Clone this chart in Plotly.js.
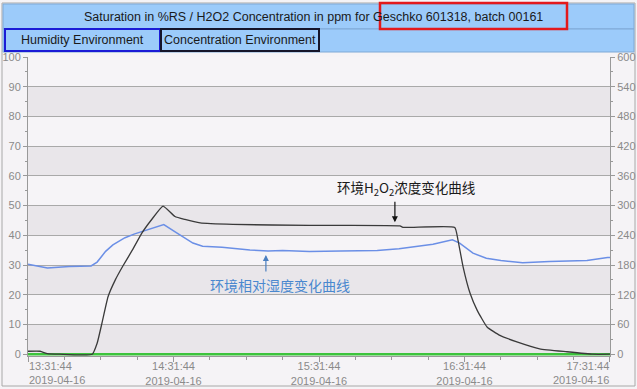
<!DOCTYPE html>
<html><head><meta charset="utf-8">
<script src="https://cdn.plot.ly/plotly-3.0.1.min.js"></script>
<style>html,body{margin:0;padding:0;background:#f5f3f6;}#chart{width:637px;height:389px;}</style>
</head><body><div id="chart"></div>
<script>
// ---- data ----
var day = '2019-04-16';
var humTimes = ['13:31:44','13:39:44','13:48:44','13:57:44','14:00:14','14:03:44','14:06:44','14:11:44','14:15:44','14:21:44','14:27:44','14:32:44','14:39:44','14:43:44','14:51:44','15:03:14','15:10:44','15:16:44','15:27:44','15:40:44','15:55:44','16:04:44','16:18:44','16:26:44','16:29:44','16:35:14','16:40:44','16:46:44','16:55:44','17:06:44','17:22:14','17:30:44','17:31:44'];
var humidity = [30.3,29.0,29.5,29.7,31.0,34.6,36.8,39.2,40.5,42.1,43.6,41.0,37.4,36.3,36.0,35.1,34.7,34.9,34.6,34.7,34.9,35.5,37.0,38.5,37.4,34.0,32.3,31.5,30.8,31.2,31.5,32.5,32.5];
var concTimes = ['13:31:44','13:36:44','13:39:44','13:44:44','13:58:14','14:00:14','14:02:14','14:04:44','14:07:44','14:10:44','14:14:44','14:18:44','14:22:44','14:27:26','14:32:20','14:36:26','14:42:44','14:56:14','15:27:44','16:05:08','16:06:20','16:27:44','16:29:02','16:31:08','16:34:02','16:36:56','16:41:02','16:46:20','16:53:20','17:02:44','17:14:02','17:24:44','17:31:44'];
var concentration = [6,6,1,0,0,22,63,116,150,177,210,245,272,299,278,272,265,262,260,259,256,256,231,177,123,89,55,38,25,11,5,0,0];
var zeroTimes = ['13:31:44','17:31:44'];
var zeroLine = [0,0];
var leftTicks = [0,10,20,30,40,50,60,70,80,90,100];
var rightTicks = [0,60,120,180,240,300,360,420,480,540,600];
var xTickTimes = ['13:31:44','14:31:44','15:31:44','16:31:44','17:31:44'];
var titleText = 'Saturation in %RS / H2O2 Concentration in ppm for Geschko 601318, batch 00161';
var tabLabels = ['Humidity Environment','Concentration Environment'];
var concLabel = '环境H<sub>2</sub>O<sub>2</sub>浓度变化曲线';
var humLabel = '环境相对湿度变化曲线';

function d(t){return day + ' ' + t;}
function tickLabel(t){return t + '<br>' + day;}
var last = xTickTimes.length - 1;
// edge labels are kept inside the frame (drawn as annotations), inner ones as axis labels
var xTickText = xTickTimes.map(function(t, i){return (i === 0 || i === last) ? '' : tickLabel(t);});

// ---- layout geometry helpers (pixel -> paper) ----
var L=28, R=610, T=57, B=356;
function px(x){return (x-L)/(R-L);}
function py(y){return (B-y)/(B-T);}

var font = 'Liberation Sans, Arial, sans-serif';
var traces = [
  {x: zeroTimes.map(d), y: zeroLine, mode:'lines', line:{color:'#3cc43c', width:2.5}, yaxis:'y', hoverinfo:'skip'},
  {x: humTimes.map(d), y: humidity, mode:'lines', line:{color:'#6b8fe6', width:1.5}, yaxis:'y'},
  {x: concTimes.map(d), y: concentration, mode:'lines', line:{color:'#3a3a3a', width:1.3, shape:'spline', smoothing:0.4}, yaxis:'y2'}
];

var bandShapes = [0,20,40,60,80].map(function(v){
  return {type:'rect', xref:'paper', yref:'y', x0:0, x1:1, y0:v, y1:v+10, fillcolor:'#e9e6ea', line:{width:0}, layer:'below'};
});

var headerShapes = [
  {type:'rect', xref:'paper', yref:'paper', x0:px(2), x1:px(635), y0:py(3), y1:py(386), line:{color:'#a8a8a8', width:1}, fillcolor:'rgba(0,0,0,0)', layer:'below'},
  {type:'rect', xref:'paper', yref:'paper', x0:px(3), x1:px(634), y0:py(4), y1:py(29), fillcolor:'#9ccbfa', line:{color:'#7fa9d6', width:1}},
  {type:'rect', xref:'paper', yref:'paper', x0:px(3), x1:px(634), y0:py(29), y1:py(52), fillcolor:'#9ccbfa', line:{color:'#7fa9d6', width:1}},
  {type:'rect', xref:'paper', yref:'paper', x0:px(5), x1:px(160), y0:py(29), y1:py(51), line:{color:'#1b1bd6', width:2}},
  {type:'rect', xref:'paper', yref:'paper', x0:px(161), x1:px(319), y0:py(29), y1:py(51), line:{color:'#15152a', width:2}},
  {type:'rect', xref:'paper', yref:'paper', x0:px(380), x1:px(567), y0:py(3), y1:py(29), line:{color:'#e3191c', width:2.5}}
];

var axisFont = {family:font, size:11, color:'#8a8a8a'};
var annotations = [
  {xref:'paper', yref:'paper', x:px(313), y:py(17), text:titleText, showarrow:false, font:{family:font, size:12.5, color:'#1a1a1a'}, xanchor:'center', yanchor:'middle'},
  {xref:'paper', yref:'paper', x:px(82), y:py(40), text:tabLabels[0], showarrow:false, font:{family:font, size:12.5, color:'#1a1a1a'}, xanchor:'center', yanchor:'middle'},
  {xref:'paper', yref:'paper', x:px(240), y:py(40), text:tabLabels[1], showarrow:false, font:{family:font, size:12.5, color:'#1a1a1a'}, xanchor:'center', yanchor:'middle'},
  {xref:'paper', yref:'paper', x:px(406), y:py(188), text:concLabel, showarrow:false, font:{family:'Noto Sans CJK SC', size:13.5, color:'#1a1a1a'}, xanchor:'center', yanchor:'middle'},
  {xref:'paper', yref:'paper', x:px(280), y:py(285), text:humLabel, showarrow:false, font:{family:'Noto Sans CJK SC', size:14, color:'#4a88cf'}, xanchor:'center', yanchor:'middle'},
  {x:d('16:03:02'), y:44.4, xref:'x', yref:'y', text:'', showarrow:true, ax:0, ay:-22, arrowhead:2, arrowsize:1, arrowwidth:1.2, arrowcolor:'#111'},
  {x:d('15:09:50'), y:33.4, xref:'x', yref:'y', text:'', showarrow:true, ax:0, ay:18, arrowhead:2, arrowsize:1, arrowwidth:1.2, arrowcolor:'#4a7fc0'},
  {x:d(xTickTimes[0]), xref:'x', yref:'paper', y:py(358), text:tickLabel(xTickTimes[0]), showarrow:false, xanchor:'left', yanchor:'top', align:'left', font:axisFont, xshift:-1},
  {x:d(xTickTimes[last]), xref:'x', yref:'paper', y:py(358), text:tickLabel(xTickTimes[last]), showarrow:false, xanchor:'right', yanchor:'top', align:'right', font:axisFont, xshift:1}
];

var layout = {
  width:637, height:389,
  margin:{l:L, r:637-R, t:T, b:389-B, pad:0},
  paper_bgcolor:'#f5f3f6', plot_bgcolor:'#f6f4f7',
  showlegend:false,
  xaxis:{type:'date', range:[d('13:31:43.5'), d('17:31:44.5')], tickmode:'array', tickvals:xTickTimes.map(d), ticktext:xTickText,
    ticks:'outside', ticklen:5, tickcolor:'#999', showline:true, linecolor:'#999', showgrid:false, zeroline:false, tickfont:axisFont, automargin:false,
    ticklabelstandoff:-5,
    minor:{tickmode:'linear', tick0:d('13:31:44'), dtick:900000, ticks:'outside', ticklen:3, tickcolor:'#999', showgrid:false}},
  yaxis:{range:[-0.6,100], tickmode:'array', tickvals:leftTicks, ticks:'outside', ticklen:4, tickcolor:'#999', showline:true, linecolor:'#999',
    showgrid:true, gridcolor:'#a9a9a9', gridwidth:1, zeroline:false, tickfont:axisFont, automargin:false,
    minor:{tickmode:'linear', tick0:0, dtick:5, ticks:'outside', ticklen:2, tickcolor:'#999', showgrid:false}},
  yaxis2:{overlaying:'y', side:'right', range:[-3.6,600], tickmode:'array', tickvals:rightTicks, ticks:'outside', ticklen:4, tickcolor:'#999', showline:true, linecolor:'#999',
    showgrid:false, zeroline:false, tickfont:axisFont, automargin:false,
    minor:{tickmode:'linear', tick0:0, dtick:30, ticks:'outside', ticklen:2, tickcolor:'#999', showgrid:false}},
  shapes: bandShapes.concat(headerShapes),
  annotations: annotations
};
Plotly.newPlot('chart', traces, layout, {displayModeBar:false, staticPlot:true});
</script></body></html>
